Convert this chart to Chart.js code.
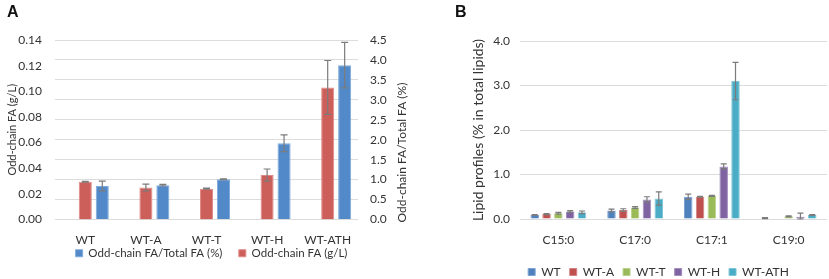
<!DOCTYPE html>
<html>
<head>
<meta charset="utf-8">
<script src="https://cdn.jsdelivr.net/npm/chart.js@4.4.1/dist/chart.umd.min.js"></script>
<style>
  body { margin: 0; background: #fff; }
  #wrap { position: relative; width: 829px; height: 279px; }
  .panel { position: absolute; top: 0; height: 279px; }
  #pA { left: 0; width: 440px; }
  #pB { left: 440px; width: 389px; }
  .tag { position: absolute; top: 3px; font: bold 16px "Liberation Sans", Arial, sans-serif; color: #111; }
</style>
</head>
<body>
<div id="wrap">
  <div class="panel" id="pA"><canvas id="chartA" width="440" height="279"></canvas></div>
  <div class="panel" id="pB"><canvas id="chartB" width="389" height="279"></canvas></div>
  <div class="tag" style="left:7px">A</div>
  <div class="tag" style="left:455px">B</div>
</div>
<script>
// panel A
const strainsA = ['WT', 'WT-A', 'WT-T', 'WT-H', 'WT-ATH'];
const oddChainGL = [0.0294, 0.025, 0.024, 0.0347, 0.103];
const oddChainGLErr = [0.0003, 0.0026, 0.0004, 0.0047, 0.021];
const oddChainPct = [0.84, 0.86, 1.01, 1.91, 3.87];
const oddChainPctErr = [0.12, 0.02, 0.01, 0.21, 0.57];
const ticksGL = [0, 0.02, 0.04, 0.06, 0.08, 0.10, 0.12, 0.14];
const ticksPct = [0, 0.5, 1.0, 1.5, 2.0, 2.5, 3.0, 3.5, 4.0, 4.5];

// panel B
const fattyAcids = ['C15:0', 'C17:0', 'C17:1', 'C19:0'];
const strainsB = ['WT', 'WT-A', 'WT-T', 'WT-H', 'WT-ATH'];
const lipidWT = [0.09, 0.19, 0.50, 0.02];
const lipidWTA = [0.11, 0.20, 0.50, 0];
const lipidWTT = [0.13, 0.26, 0.52, 0.06];
const lipidWTH = [0.17, 0.44, 1.18, 0.05];
const lipidWTATH = [0.15, 0.46, 3.10, 0.09];
const lipidWTErr = [0.01, 0.03, 0.06, 0.01];
const lipidWTAErr = [0.01, 0.03, 0.01, 0];
const lipidWTTErr = [0.02, 0.02, 0.01, 0.01];
const lipidWTHErr = [0.02, 0.06, 0.06, 0.08];
const lipidWTATHErr = [0.03, 0.15, 0.42, 0.01];
const ticksLipid = [0, 1.0, 2.0, 3.0, 4.0];

Chart.defaults.font.family = 'Lato, "Open Sans", sans-serif';
Chart.defaults.font.size = 12;
Chart.defaults.color = '#333';

const errorBars = {
  id: 'errorBars',
  afterDatasetsDraw(chart, args, opts) {
    const ctx = chart.ctx;
    ctx.save();
    ctx.strokeStyle = '#7b7b7b';
    ctx.lineWidth = 1.2;
    chart.data.datasets.forEach((ds, i) => {
      if (!ds.errors) return;
      const meta = chart.getDatasetMeta(i);
      const yScale = chart.scales[meta.yAxisID];
      meta.data.forEach((bar, j) => {
        const err = ds.errors[j];
        if (!err) return;
        const v = ds.data[j];
        const y1 = yScale.getPixelForValue(v + err);
        const y2 = yScale.getPixelForValue(Math.max(0, v - err));
        const w = opts.cap;
        ctx.beginPath();
        ctx.moveTo(bar.x, y1); ctx.lineTo(bar.x, y2);
        ctx.moveTo(bar.x - w, y1); ctx.lineTo(bar.x + w, y1);
        ctx.moveTo(bar.x - w, y2); ctx.lineTo(bar.x + w, y2);
        ctx.stroke();
      });
    });
    ctx.restore();
  }
};

// right axis title reads bottom to top like the left one
const rightTitle = {
  id: 'rightTitle',
  afterDraw(chart, args, opts) {
    const ctx = chart.ctx;
    ctx.save();
    ctx.translate(opts.x, chart.chartArea.bottom + 3);
    ctx.rotate(-Math.PI / 2);
    ctx.font = '12px Lato, sans-serif';
    ctx.fillStyle = '#333';
    ctx.textAlign = 'left';
    ctx.textBaseline = 'middle';
    ctx.fillText(opts.text, 0, 0);
    ctx.restore();
  }
};

new Chart(document.getElementById('chartA'), {
  type: 'bar',
  data: {
    labels: strainsA,
    datasets: [
      {
        // empty slot so the red bar sits on the category centre, as in the original
        label: '',
        data: strainsA.map(() => null),
        yAxisID: 'yGL'
      },
      {
        label: 'Odd-chain FA (g/L)',
        data: oddChainGL,
        errors: oddChainGLErr,
        yAxisID: 'yGL',
        backgroundColor: '#cd5f5b',
        borderColor: '#e08a86',
        borderWidth: 1
      },
      {
        label: 'Odd-chain FA/Total FA (%)',
        data: oddChainPct,
        errors: oddChainPctErr,
        yAxisID: 'yPct',
        backgroundColor: '#5289c9',
        borderColor: '#7eaadc',
        borderWidth: 1
      }
    ]
  },
  options: {
    responsive: false,
    animation: false,
    categoryPercentage: 0.84,
    barPercentage: 0.77,
    layout: { padding: { top: 40, bottom: 10, left: 0, right: 17 } },
    scales: {
      x: {
        grid: { display: false, drawTicks: false },
        border: { display: false },
        ticks: { padding: 13 },
        afterFit: s => { s.height = 26; }
      },
      yGL: {
        position: 'left',
        min: 0, max: 0.14,
        afterBuildTicks: s => { s.ticks = ticksGL.map(v => ({ value: v })); },
        ticks: { padding: 13, callback: v => v.toFixed(2) },
        grid: { display: false, drawTicks: false },
        border: { display: false },
        title: { display: true, text: 'Odd-chain FA (g/L)', font: { size: 11 }, padding: { top: 6, bottom: 0 } },
        afterFit: s => { s.width = 55; }
      },
      yPct: {
        position: 'right',
        min: 0, max: 4.5,
        afterBuildTicks: s => { s.ticks = ticksPct.map(v => ({ value: v })); },
        ticks: { padding: 12, callback: v => v.toFixed(1) },
        grid: { color: '#dcdcdc', drawTicks: false },
        border: { display: false },
        afterFit: s => { s.width = 65; }
      }
    },
    plugins: {
      legend: {
        position: 'bottom',
        reverse: true,
        labels: {
          boxWidth: 7, boxHeight: 7, padding: 2,
          font: { size: 11.5 },
          filter: item => item.datasetIndex !== 0,
          generateLabels(chart) {
            const items = Chart.defaults.plugins.legend.labels.generateLabels(chart);
            // widen the gap after the first (blue) item
            items.forEach(it => { if (it.datasetIndex === 2) it.text += '\u2003\u2002'; });
            return items;
          }
        }
      },
      tooltip: { enabled: false },
      errorBars: { cap: 3.5 },
      rightTitle: { text: 'Odd-chain FA/Total FA (%)', x: 402 }
    }
  },
  plugins: [errorBars, rightTitle]
});

const colorsB = ['#4f81bd', '#c0504d', '#9bbb59', '#8064a2', '#4bacc6'];
const bordersB = ['#7ea3d2', '#d48280', '#b8d08a', '#a28dbf', '#7fc6d8'];
const valuesB = [lipidWT, lipidWTA, lipidWTT, lipidWTH, lipidWTATH];
const errorsB = [lipidWTErr, lipidWTAErr, lipidWTTErr, lipidWTHErr, lipidWTATHErr];

new Chart(document.getElementById('chartB'), {
  type: 'bar',
  data: {
    labels: fattyAcids,
    datasets: strainsB.map((name, i) => ({
      label: name,
      data: valuesB[i],
      errors: errorsB[i],
      backgroundColor: colorsB[i],
      borderColor: bordersB[i],
      borderWidth: 1
    }))
  },
  options: {
    responsive: false,
    animation: false,
    categoryPercentage: 0.77,
    barPercentage: 0.72,
    layout: { padding: { top: 41, bottom: -9, left: 50, right: 2 } },
    scales: {
      x: {
        grid: { display: false, drawTicks: false },
        border: { display: false },
        ticks: { padding: 14 },
        afterFit: s => { s.height = 38; }
      },
      y: {
        min: 0, max: 4.0,
        afterBuildTicks: s => { s.ticks = ticksLipid.map(v => ({ value: v })); },
        ticks: { padding: 10, callback: v => v.toFixed(1) },
        grid: { color: '#dcdcdc', drawTicks: false },
        border: { display: false },
        title: { display: true, text: 'Lipid profiles (% in total lipids)', font: { size: 14 }, padding: { top: -20, bottom: 0 } },
        afterFit: s => { s.width = 30; }
      }
    },
    plugins: {
      legend: {
        position: 'bottom',
        labels: { boxWidth: 7, boxHeight: 7, padding: 9 }
      },
      tooltip: { enabled: false },
      errorBars: { cap: 3 }
    }
  },
  plugins: [errorBars]
});
</script>
</body>
</html>
